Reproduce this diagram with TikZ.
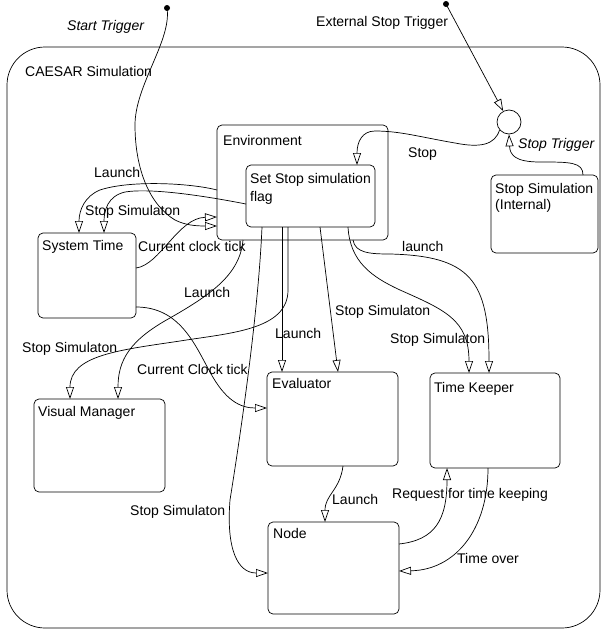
\documentclass[tikz,border=0pt]{standalone}
\usepackage{fontspec}
\setmainfont{Liberation Sans}
\usetikzlibrary{arrows.meta,calc}
\begin{document}
\begin{tikzpicture}[x=1pt,y=-1pt,
  box/.style={draw, rounded corners=5pt, inner sep=0pt, outer sep=0pt, anchor=north west, line width=0.7pt},
  lbl/.style={font=\fontsize{14}{16}\selectfont, inner sep=0pt, anchor=base west},
  ilbl/.style={lbl, font=\fontsize{14}{16}\selectfont\itshape},
  conn/.style={draw, line width=0.7pt, -{Triangle[open,length=12pt,width=8pt]}},
  wire/.style={draw, line width=0.7pt},
  dot/.style={fill, circle, minimum size=6pt, inner sep=0pt},
]
\useasboundingbox (0,0) rectangle (601,629);

% boxes
\node[box, rounded corners=38pt, minimum width=593pt, minimum height=581pt] (outer) at (7,47) {};
\node[box, minimum width=171pt, minimum height=115pt] (env) at (217,125) {};
\node[box, minimum width=129pt, minimum height=62pt] (flag) at (246,165) {};
\node[box, minimum width=98pt, minimum height=85pt] (st) at (38,233) {};
\node[box, minimum width=131pt, minimum height=93pt] (vm) at (34,399) {};
\node[box, minimum width=131pt, minimum height=94pt] (ev) at (267,372) {};
\node[box, minimum width=130pt, minimum height=95pt] (tk) at (430,373) {};
\node[box, minimum width=131pt, minimum height=92pt] (nd) at (268,522) {};
\node[box, minimum width=107pt, minimum height=78pt] (ssi) at (491,175) {};
\node[draw, circle, minimum size=24pt, inner sep=0pt, line width=0.7pt] (circ) at (509,122) {};
\node[dot] (sdot) at (167,8) {};
\node[dot] (edot) at (446,4) {};

% box titles
\node[lbl] (outert) at (25,76) {CAESAR Simulation};
\node[lbl] (envt) at (223,145) {Environment};
\node[lbl] (flagt1) at (250,183) {Set Stop simulation};
\node[lbl] (flagt2) at (250,201) {flag};
\node[lbl] (stt) at (42,250) {System Time};
\node[lbl] (vmt) at (38,416) {Visual Manager};
\node[lbl] (evt) at (272,388) {Evaluator};
\node[lbl] (tkt) at (434,392) {Time Keeper};
\node[lbl] (ndt) at (273,538) {Node};
\node[lbl] (ssit1) at (495,193) {Stop Simulation};
\node[lbl] (ssit2) at (495,209) {(Internal)};

% connectors
\draw[conn] (sdot.center) .. controls (172,40) and (135,85) .. (135,125)
  .. controls (135,170) and (150,205) .. (175,220)
  .. controls (185,225) and (195,226) .. ($(env.north west)+(0,101)$);
\draw[conn] (edot.center) -- (circ);
\draw[conn] (circ.220) .. controls (495,145) and (480,148) .. (455,143)
  .. controls (420,137) and (400,131) .. (375,131)
  .. controls (362,131) and (357,142) .. ($(flag.north west)+(111,0)$);
\draw[conn] ($(ssi.north west)+(92,0)$) .. controls (583,162) and (570,162) .. (540,162)
  .. controls (515,162) and (510,155) .. (circ.south);
\draw[conn] ($(env.north west)+(0,65)$) .. controls (190,183) and (130,180) .. (100,190)
  .. controls (85,196) and (79,210) .. ($(st.north west)+(41,0)$);
\draw[conn] ($(flag.north west)+(0,39)$) .. controls (200,195) and (150,188) .. (125,192)
  .. controls (108,196) and (104,210) .. ($(st.north west)+(66,0)$);
\draw[conn] ($(st.north east)+(0,35)$) .. controls (160,265) and (178,218) .. ($(env.north west)+(0,92)$);
\draw[conn] ($(env.south west)+(26,0)$) .. controls (240,275) and (210,295) .. (170,318)
  .. controls (130,340) and (118,360) .. ($(vm.north west)+(84,0)$);
\draw[conn] ($(flag.south west)+(42,0)$) -- (288,290) .. controls (288,330) and (230,333) .. (180,341)
  .. controls (120,350) and (70,355) .. ($(vm.north west)+(36,0)$);
\draw[conn] ($(st.north east)+(0,74)$) .. controls (180,307) and (195,345) .. (210,372)
  .. controls (225,400) and (240,408) .. ($(ev.north west)+(0,36)$);
\draw[conn] ($(flag.south west)+(36,0)$) -- ($(ev.north west)+(15,0)$);
\draw[conn] ($(flag.south west)+(16,0)$) .. controls (258,320) and (238,450) .. (230,500)
  .. controls (226,550) and (238,573) .. ($(nd.north west)+(0,51)$);
\draw[conn] ($(flag.south west)+(74,0)$) -- ($(ev.north west)+(71,0)$);
\draw[conn] ($(flag.south west)+(102,0)$) .. controls (350,262) and (372,277) .. (400,290)
  .. controls (445,310) and (469,320) .. ($(tk.north west)+(39,0)$);
\draw[conn] ($(env.south west)+(136,0)$) .. controls (355,253) and (370,254) .. (390,254)
  .. controls (470,256) and (489,280) .. ($(tk.north west)+(59,0)$);
\draw[conn] ($(ev.south west)+(76,0)$) .. controls (340,490) and (325,495) .. ($(nd.north west)+(57,0)$);
\draw[conn] ($(nd.north east)+(0,22)$) .. controls (435,540) and (447,520) .. ($(tk.south west)+(17,0)$);
\draw[conn] ($(tk.south west)+(58,0)$) .. controls (488,530) and (455,570) .. ($(nd.north east)+(0,49)$);

% connector labels
\node[ilbl] (l1) at (67,30) {Start Trigger};
\node[lbl] (l2) at (316,27) {External Stop Trigger};
\node[lbl] (l3) at (408,157) {Stop};
\node[ilbl] (l4) at (518,148) {Stop Trigger};
\node[lbl] (l5) at (94,177) {Launch};
\node[lbl] (l6) at (85,215) {Stop Simulaton};
\node[lbl] (l7) at (138,251) {Current clock tick};
\node[lbl] (l8) at (184,297) {Launch};
\node[lbl] (l9) at (22,352) {Stop Simulaton};
\node[lbl] (l10) at (137,374) {Current Clock tick};
\node[lbl] (l11) at (275,338) {Launch};
\node[lbl] (l12) at (335,315) {Stop Simulaton};
\node[lbl] (l13) at (390,343) {Stop Simulaton};
\node[lbl] (l14) at (402,251) {launch};
\node[lbl] (l15) at (130,515) {Stop Simulaton};
\node[lbl] (l16) at (332,504) {Launch};
\node[lbl] (l17) at (392,498) {Request for time keeping};
\node[lbl] (l18) at (457,563) {Time over};
\end{tikzpicture}
\end{document}
